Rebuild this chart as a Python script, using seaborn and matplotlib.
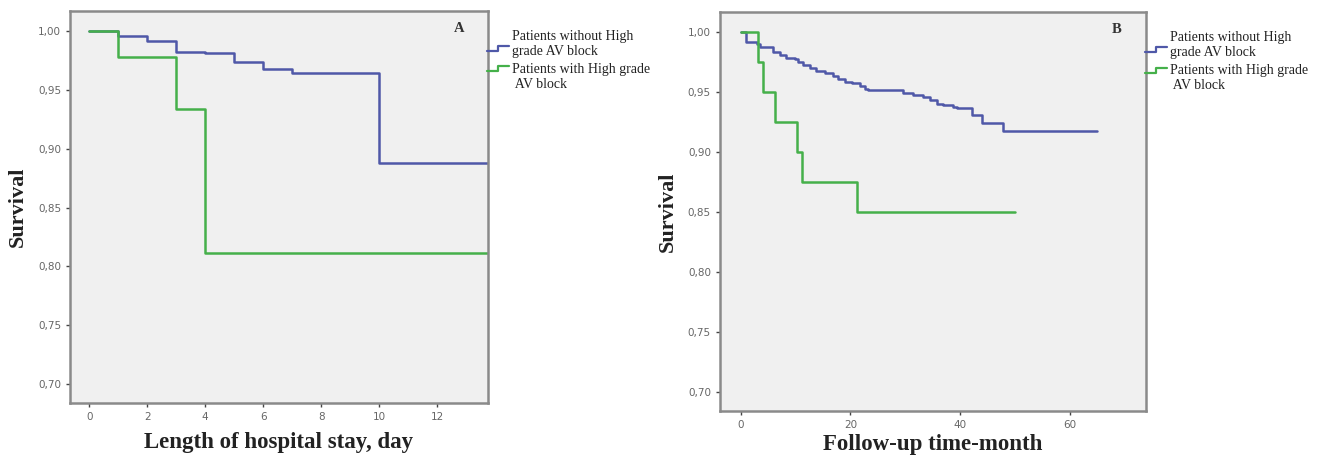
import numpy as np
import pandas as pd
import matplotlib
matplotlib.use("Agg")
import matplotlib.pyplot as plt
import seaborn as sns
from matplotlib.legend_handler import HandlerBase
from matplotlib.lines import Line2D

# ------------------- Data -------------------
labels = ["Patients without High\ngrade AV block", "Patients with High grade\n AV block"]

# A: length of hospital stay (days)
a_no_t = [0, 1, 2, 3, 4, 5, 6, 7, 10, 14]
a_no_s = [1.0, 0.996, 0.9915, 0.982, 0.981, 0.9735, 0.968, 0.9647, 0.888, 0.888]
a_hi_t = [0, 1, 3, 4, 14]
a_hi_s = [1.0, 0.978, 0.934, 0.811, 0.811]

# B: follow-up (months)
b_no_t = [0, 0.9, 2.9, 3.5, 5.9, 7.1, 8.3, 9.9, 10.5, 11.4,
          12.6, 13.8, 15.3, 16.8, 17.8, 19.0, 20.2, 21.7, 22.6, 23.2,
          29.6, 31.4, 33.3, 34.5, 35.7, 36.9, 38.7, 39.4, 42.1, 43.9,
          47.9, 65]
b_no_s = [1.0, 0.9916, 0.990, 0.988, 0.9838, 0.981, 0.979, 0.978, 0.9754, 0.9727,
          0.970, 0.968, 0.966, 0.9635, 0.9607, 0.9587, 0.9574, 0.955, 0.953, 0.9518,
          0.9495, 0.9476, 0.9462, 0.9434, 0.9406, 0.9392, 0.9378, 0.9365, 0.931, 0.924,
          0.9178, 0.9178]
b_hi_t = [0, 3.2, 4.1, 6.2, 10.2, 11.1, 21.1, 50]
b_hi_s = [1.0, 0.975, 0.95, 0.925, 0.90, 0.875, 0.85, 0.85]

y_ticks = [0.70, 0.75, 0.80, 0.85, 0.90, 0.95, 1.00]
blue = "#4f58a8"
green = "#45b04a"
leg_size = 10


def make_df(t1, s1, t2, s2):
    d1 = pd.DataFrame({"time": t1, "surv": s1, "group": labels[0]})
    d2 = pd.DataFrame({"time": t2, "surv": s2, "group": labels[1]})
    return pd.concat([d1, d2], ignore_index=True)


class StepHandler(HandlerBase):
    # little step glyph like the SPSS legend, shifted up by `lift` points
    def __init__(self, lift=0.0):
        super().__init__()
        self.lift = lift

    def create_artists(self, legend, orig_handle, xdescent, ydescent,
                       width, height, fontsize, trans):
        c = orig_handle.get_color()
        w = width
        y0 = 0.3 * fontsize - 4.5 + self.lift
        xs = [0, w * 0.4, w * 0.5, w * 0.5, w * 0.6, w]
        ys = [y0, y0, y0, y0 + 3.5, y0 + 3.5, y0 + 3.5]
        ln = Line2D(xs, ys, color=c, lw=1.6, transform=trans)
        return [ln]


sns.set_style("white")
fig = plt.figure(figsize=(13.24, 4.57), dpi=100)
axA = fig.add_axes([0.0529, 0.1182, 0.3157, 0.8578])
axB = fig.add_axes([0.5438, 0.1007, 0.3218, 0.8730])

panels = [
    (axA, make_df(a_no_t, a_no_s, a_hi_t, a_hi_s), (-0.66, 13.76), [0, 2, 4, 6, 8, 10, 12],
     "Length of hospital stay, day", "A", 7),
    (axB, make_df(b_no_t, b_no_s, b_hi_t, b_hi_s), (-3.8, 73.9), [0, 20, 40, 60],
     "Follow-up time-month", "B", 3),
]

for ax, df, xlim, xt, xlab, tag, xpad in panels:
    ax.set_facecolor("#f0f0f0")
    sns.lineplot(data=df, x="time", y="surv", hue="group", palette=[blue, green],
                 drawstyle="steps-post", estimator=None, linewidth=1.8, ax=ax,
                 legend=False)
    ax.set_xlim(*xlim)
    ax.set_ylim(0.684, 1.017)
    ax.set_xticks(xt)
    ax.set_xticklabels([str(v) for v in xt])
    ax.set_yticks(y_ticks)
    ax.set_yticklabels([f"{v:.2f}".replace(".", ",") for v in y_ticks])
    ax.tick_params(axis="both", labelsize=7.5, labelcolor="#666666", color="#444444",
                   length=3, width=1, direction="out", bottom=True, left=True)
    for sp in ax.spines.values():
        sp.set_color("#8a8a8a")
        sp.set_linewidth(1.8)
    ax.set_xlabel(xlab, family="Liberation Serif", fontweight="bold", fontsize=16.5,
                  color="#222222", labelpad=xpad)
    ax.set_ylabel("Survival", family="Liberation Serif", fontweight="bold", fontsize=16,
                  color="#222222", labelpad=7)
    ax.text(0.93, 0.955, tag, transform=ax.transAxes, family="Liberation Serif",
            fontweight="bold", fontsize=10.5, color="#333333", ha="center", va="center")
    h_no = Line2D([], [], color=blue)
    h_hi = Line2D([], [], color=green)
    leg = ax.legend([h_no, h_hi], labels, loc="upper left", bbox_to_anchor=(0.998, 0.952),
                    frameon=False, borderaxespad=0, borderpad=0, handlelength=1.6,
                    handletextpad=0.2, labelspacing=0.35,
                    prop={"family": "Liberation Serif", "size": leg_size},
                    handler_map={h_no: StepHandler(0.0),
                                 h_hi: StepHandler(9.0)})
    for t in leg.get_texts():
        t.set_color("#222222")

fig.savefig("out.png", dpi=100)
